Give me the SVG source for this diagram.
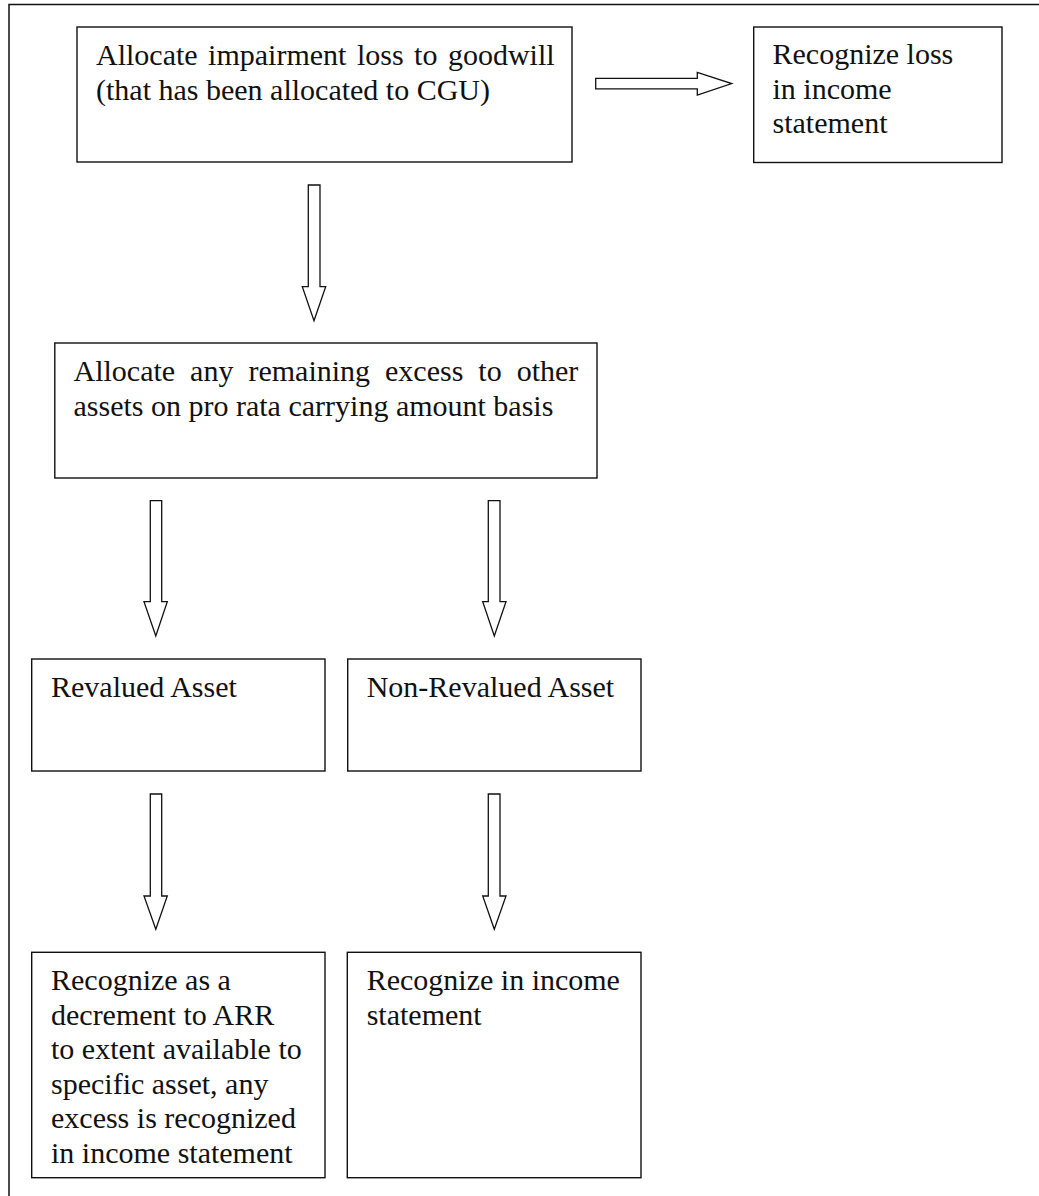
<svg xmlns="http://www.w3.org/2000/svg" width="1039" height="1196" viewBox="0 0 1039 1196">
  <style>
    .box { fill: #ffffff; stroke: #111111; stroke-width: 1.4; }
    .arrow { fill: #ffffff; stroke: #111111; stroke-width: 1.3; stroke-linejoin: miter; }
    .frame { fill: none; stroke: #111111; stroke-width: 1.5; }
    text { font-family: "Liberation Serif", "Times New Roman", serif; font-size: 30px; fill: #111111; }
  </style>
  <rect x="0" y="0" width="1039" height="1196" fill="#ffffff"/>

  <!-- page frame: top and left rules -->
  <path class="frame" d="M1039,4.5 H9 V1196"/>

  <g id="connectors">
    <!-- goodwill -> income statement -->
    <polygon class="arrow" points="595.7,78.3 697.3,78.3 697.3,72.3 731.7,83.6 697.3,95 697.3,88.8 595.7,88.8"/>
    <!-- goodwill -> remaining excess -->
    <polygon class="arrow" points="308.3,185 320,185 320,286.7 325.7,286.7 314,320.7 302.3,286.7 308.3,286.7"/>
    <!-- remaining excess -> revalued -->
    <polygon class="arrow" points="150.3,500.7 161.7,500.7 161.7,601.7 167.3,601.7 155.8,636 144,601.7 150.3,601.7"/>
    <!-- remaining excess -> non-revalued -->
    <polygon class="arrow" points="488.3,500.7 500,500.7 500,601.7 506,601.7 494.3,636 482.7,601.7 488.3,601.7"/>
    <!-- revalued -> ARR decrement -->
    <polygon class="arrow" points="150.3,794 161.7,794 161.7,896 167.3,896 155.8,929.3 144,896 150.3,896"/>
    <!-- non-revalued -> income statement -->
    <polygon class="arrow" points="488.3,794 500,794 500,896 506,896 494.3,929.3 482.7,896 488.3,896"/>
  </g>

  <g id="goodwill">
    <rect class="box" x="77" y="27" width="495" height="135"/>
    <text x="96" y="65" word-spacing="3">Allocate impairment loss to goodwill</text>
    <text x="96" y="99.5">(that has been allocated to CGU)</text>
  </g>

  <g id="income-loss">
    <rect class="box" x="753.7" y="27" width="248.3" height="135.5"/>
    <text x="772.5" y="64">Recognize loss</text>
    <text x="772.5" y="98.5">in income</text>
    <text x="772.5" y="133">statement</text>
  </g>

  <g id="remaining-excess">
    <rect class="box" x="54.8" y="343" width="542.2" height="135"/>
    <text x="73.5" y="381" word-spacing="7.5">Allocate any remaining excess to other</text>
    <text x="73.5" y="415.5">assets on pro rata carrying amount basis</text>
  </g>

  <g id="revalued">
    <rect class="box" x="31.7" y="659" width="293.3" height="112"/>
    <text x="51" y="697">Revalued Asset</text>
  </g>

  <g id="non-revalued">
    <rect class="box" x="347.7" y="659" width="293.3" height="112"/>
    <text x="366.7" y="697">Non-Revalued Asset</text>
  </g>

  <g id="arr-decrement">
    <rect class="box" x="31.7" y="952.3" width="293.3" height="225.4"/>
    <text x="51" y="990">Recognize as a</text>
    <text x="51" y="1024.5">decrement to ARR</text>
    <text x="51" y="1059">to extent available to</text>
    <text x="51" y="1093.5">specific asset, any</text>
    <text x="51" y="1128">excess is recognized</text>
    <text x="51" y="1162.5">in income statement</text>
  </g>

  <g id="income-statement">
    <rect class="box" x="347.3" y="952.3" width="293.7" height="225.4"/>
    <text x="366.7" y="990">Recognize in income</text>
    <text x="366.7" y="1024.5">statement</text>
  </g>
</svg>
